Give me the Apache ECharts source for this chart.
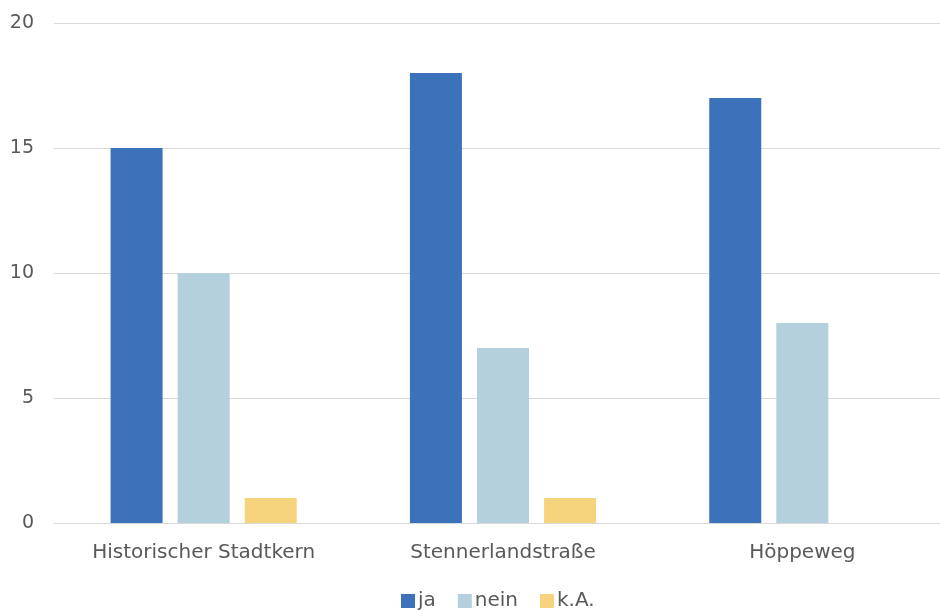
<!DOCTYPE html>
<html><head><meta charset="utf-8">
<script src="https://cdn.jsdelivr.net/npm/echarts@6/dist/echarts.min.js"></script>
<style>html,body{margin:0;padding:0;background:#fff;overflow:hidden;width:940px;height:610px}#c{width:952px;height:610px}</style>
</head><body><div id="c"></div>
<script>
const categories = ['Historischer Stadtkern', 'Stennerlandstraße', 'Höppeweg'];
const seriesNames = ['ja', 'nein', 'k.A.'];
const ja = [15, 18, 17];
const nein = [10, 7, 8];
const ka = [1, 1, null];
const yTicks = { min: 0, max: 20, interval: 5 };
const colors = ['#3C72B9', '#B3D0DC', '#F6D47E'];
const font = '"DejaVu Sans", sans-serif';
const chart = echarts.init(document.getElementById('c'));
chart.setOption({
  animation: false,
  grid: { left: 54, right: 0, top: 23, bottom: 87, containLabel: false },
  legend: {
    top: 586, left: 396, itemWidth: 14, itemHeight: 14, itemGap: 22,
    icon: 'rect',
    textStyle: { color: '#595959', fontSize: 20, fontFamily: font, padding: [0, 0, 0, -2] },
    data: seriesNames
  },
  xAxis: {
    type: 'category', data: categories,
    axisLine: { lineStyle: { color: '#d9d9d9' } },
    axisTick: { show: false },
    axisLabel: { color: '#595959', fontSize: 20, fontFamily: font, margin: 20 }
  },
  yAxis: {
    type: 'value', min: yTicks.min, max: yTicks.max, interval: yTicks.interval,
    axisLine: { show: false }, axisTick: { show: false },
    splitLine: { lineStyle: { color: '#d9d9d9' } },
    axisLabel: { color: '#595959', fontSize: 19, fontFamily: font, margin: 20 }
  },
  series: [
    { name: seriesNames[0], type: 'bar', data: ja, barWidth: 52, barGap: '29%', itemStyle: { color: colors[0] } },
    { name: seriesNames[1], type: 'bar', data: nein, barWidth: 52, barGap: '29%', itemStyle: { color: colors[1] } },
    { name: seriesNames[2], type: 'bar', data: ka, barWidth: 52, barGap: '29%', itemStyle: { color: colors[2] } }
  ]
});
</script></body></html>
